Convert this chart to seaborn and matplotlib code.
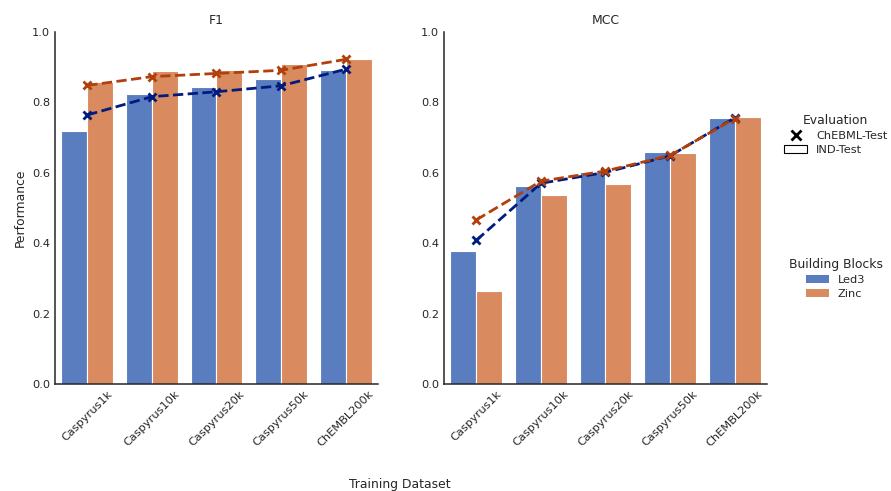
import matplotlib
matplotlib.use("Agg")
import matplotlib.pyplot as plt
from matplotlib.lines import Line2D
from matplotlib.patches import Patch
import seaborn as sns
import pandas as pd

datasets = ["Caspyrus1k", "Caspyrus10k", "Caspyrus20k", "Caspyrus50k", "ChEMBL200k"]
blocks = ["Led3", "Zinc"]

# IND-Test scores (bars)
f1_ind_led3 = [0.719, 0.823, 0.843, 0.866, 0.892]
f1_ind_zinc = [0.858, 0.888, 0.891, 0.909, 0.923]
mcc_ind_led3 = [0.377, 0.561, 0.602, 0.659, 0.756]
mcc_ind_zinc = [0.264, 0.538, 0.569, 0.656, 0.758]

# ChEBML-Test scores (dashed lines)
f1_chembl_led3 = [0.764, 0.816, 0.830, 0.847, 0.894]
f1_chembl_zinc = [0.848, 0.873, 0.882, 0.891, 0.922]
mcc_chembl_led3 = [0.408, 0.570, 0.601, 0.648, 0.756]
mcc_chembl_zinc = [0.466, 0.576, 0.605, 0.649, 0.754]


def long_table(led3, zinc):
    return pd.DataFrame({
        "Training Dataset": datasets * 2,
        "Building Blocks": [blocks[0]] * len(datasets) + [blocks[1]] * len(datasets),
        "Performance": list(led3) + list(zinc),
    })


panels = [
    ("F1", long_table(f1_ind_led3, f1_ind_zinc), long_table(f1_chembl_led3, f1_chembl_zinc)),
    ("MCC", long_table(mcc_ind_led3, mcc_ind_zinc), long_table(mcc_chembl_led3, mcc_chembl_zinc)),
]

sns.set_theme(style="white")
plt.rcParams["font.family"] = ["DejaVu Sans"]
fs = 8.2

fig = plt.figure(figsize=(8.91, 4.91), dpi=100)
axes = [fig.add_axes([0.0617, 0.218, 0.3625, 0.717]),
        fig.add_axes([0.4983, 0.218, 0.3625, 0.717])]

for ax, (metric, ind_df, chembl_df) in zip(axes, panels):
    sns.barplot(data=ind_df, x="Training Dataset", y="Performance",
                hue="Building Blocks", palette="muted", order=datasets,
                hue_order=blocks, errorbar=None, edgecolor="white",
                linewidth=0.8, legend=False, ax=ax)
    sns.pointplot(data=chembl_df, x="Training Dataset", y="Performance",
                  hue="Building Blocks", palette="dark", order=datasets,
                  hue_order=blocks, errorbar=None, markers="x",
                  linestyles="--", dodge=False, legend=False, ax=ax,
                  linewidth=2, markersize=6, markeredgewidth=2)
    ax.set_ylim(0, 1.0)
    ax.set_xlim(-0.5, 4.5)
    ax.set_title(metric, fontsize=fs + 0.7, color=".15")
    ax.set_xlabel("")
    ax.tick_params(axis="both", labelsize=fs, colors=".15", length=0)
    ax.set_xticks(range(len(datasets)))
    ax.set_xticklabels(datasets, rotation=45, ha="center", fontsize=fs)
    for s in ("left", "bottom"):
        ax.spines[s].set_color(".15")
        ax.spines[s].set_linewidth(1.1)
    sns.despine(ax=ax)

axes[0].set_ylabel("Performance", fontsize=fs + 0.7, color=".15")
axes[1].set_ylabel("")

fig.supxlabel("Training Dataset", fontsize=fs + 0.7, color=".15",
              x=0.449, y=0.001, va="bottom")

eval_handles = [
    Line2D([], [], marker="x", color="black", linestyle="none", markersize=7, markeredgewidth=2),
    Patch(facecolor="white", edgecolor="black", linewidth=0.8),
]
fig.legend(eval_handles, ["ChEBML-Test", "IND-Test"], title="Evaluation",
           loc="center", bbox_to_anchor=(0.938, 0.726), frameon=False,
           fontsize=fs, title_fontsize=fs + 0.7, handlelength=2.0,
           handleheight=0.7, labelspacing=0.35)

bar_colors = sns.color_palette("muted", 2, desat=0.75)
block_handles = [Patch(facecolor=c, edgecolor="none") for c in bar_colors]
fig.legend(block_handles, blocks, title="Building Blocks",
           loc="center", bbox_to_anchor=(0.938, 0.433), frameon=False,
           fontsize=fs, title_fontsize=fs + 0.7, handlelength=2.0,
           handleheight=0.7, labelspacing=0.35)

fig.savefig("out.png", dpi=100)
